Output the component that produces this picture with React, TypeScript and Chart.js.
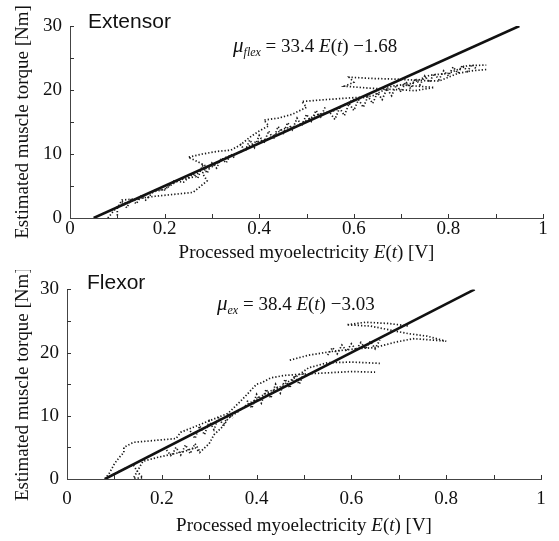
import React, { useEffect, useRef } from "react";
import { Chart, registerables } from "chart.js";
Chart.register(...registerables);

type Pt = [number, number];

// ---------- data ----------
const xTickLabels = ["0", "0.2", "0.4", "0.6", "0.8", "1"];
const yTickLabels = ["0", "10", "20", "30"];

// Extensor panel
const extFit: Pt[] = [[0.05, 0.0], [0.95, 30.0]];
const extTraceUp: Pt[] = [
  [0.08, 0.0], [0.09, 0.9], [0.1, 1.8], [0.12, 2.5], [0.14, 2.8], [0.17, 4.0], [0.2, 4.5],
  [0.23, 5.9], [0.26, 6.4], [0.28, 7.6], [0.3, 8.0], [0.33, 9.5], [0.36, 10.3], [0.39, 11.8],
  [0.42, 12.4], [0.45, 13.9], [0.48, 14.4], [0.52, 16.1], [0.56, 16.8], [0.6, 18.5], [0.64, 19.1],
  [0.68, 20.6], [0.72, 21.0], [0.76, 22.3], [0.8, 22.6], [0.84, 23.8], [0.88, 23.9],
];
const extTraceReturn: Pt[] = [
  [0.88, 23.2], [0.85, 23.0], [0.82, 22.6], [0.78, 21.4], [0.74, 21.5], [0.69, 21.7],
  [0.64, 21.8], [0.59, 22.0], [0.6, 21.2], [0.58, 20.6], [0.63, 20.3], [0.68, 20.1],
  [0.73, 19.9], [0.77, 20.4], [0.7, 20.8],
];
const extTraceMid: Pt[] = [
  [0.62, 18.9], [0.58, 18.7], [0.54, 18.5], [0.49, 18.2], [0.5, 17.3], [0.47, 16.2], [0.44, 15.6],
  [0.41, 15.3], [0.42, 14.4], [0.4, 13.6], [0.38, 12.6], [0.36, 11.4], [0.34, 10.6], [0.31, 10.4],
  [0.28, 10.0], [0.25, 9.5], [0.27, 8.8], [0.29, 8.0], [0.28, 7.0], [0.29, 5.8], [0.27, 4.6],
  [0.26, 4.0], [0.22, 3.7], [0.18, 3.4], [0.14, 3.0], [0.11, 2.8], [0.1, 1.6], [0.1, 0.4],
];
const extJitterLow: Pt[] = [
  [0.11, 2.6], [0.12, 1.6], [0.13, 3.0], [0.14, 2.2], [0.15, 3.4], [0.16, 2.8], [0.18, 4.4],
  [0.2, 4.4], [0.22, 5.8], [0.24, 5.6], [0.26, 6.9], [0.27, 6.2], [0.28, 8.2], [0.29, 7.0],
  [0.3, 8.6], [0.31, 7.8], [0.32, 9.4], [0.33, 8.6], [0.34, 10.0], [0.35, 9.2],
];
const extJitterMid: Pt[] = [
  [0.36, 11.6], [0.37, 10.4], [0.38, 12.2], [0.39, 11.0], [0.4, 12.9], [0.41, 11.7], [0.42, 13.6],
  [0.43, 12.3], [0.44, 14.3], [0.45, 13.0], [0.46, 14.9], [0.47, 13.8], [0.48, 15.6], [0.49, 14.4],
  [0.5, 16.2], [0.51, 15.1], [0.52, 16.8], [0.53, 15.8], [0.54, 17.4],
];
const extJitterHigh: Pt[] = [
  [0.55, 16.4], [0.56, 15.4], [0.57, 17.2], [0.58, 16.0], [0.59, 17.9], [0.6, 16.8], [0.61, 18.5],
  [0.62, 17.3], [0.63, 19.0], [0.64, 17.9], [0.65, 19.6], [0.66, 18.5], [0.67, 20.2], [0.68, 19.1],
  [0.69, 20.8], [0.7, 19.7], [0.71, 21.3], [0.72, 20.2], [0.73, 21.8], [0.74, 20.8], [0.75, 22.2],
  [0.76, 21.2], [0.77, 22.6], [0.78, 21.6], [0.79, 23.0], [0.8, 22.2], [0.81, 23.6], [0.82, 22.6],
  [0.83, 23.9], [0.84, 22.9], [0.85, 24.0], [0.86, 23.2],
];

// Flexor panel
const flxFit: Pt[] = [[0.08, 0.0], [0.86, 30.0]];
const flxTraceUpper: Pt[] = [
  [0.08, 0.0], [0.09, 1.0], [0.1, 2.4], [0.11, 3.4], [0.12, 4.2], [0.12, 5.0], [0.14, 5.8],
  [0.17, 6.0], [0.2, 6.2], [0.23, 6.4], [0.24, 7.4], [0.26, 8.0], [0.29, 8.9], [0.32, 9.8],
  [0.34, 10.4], [0.37, 12.6], [0.4, 15.0], [0.41, 15.2], [0.43, 16.0], [0.46, 16.4],
  [0.5, 16.6], [0.55, 16.8], [0.6, 17.0], [0.65, 16.9],
];
const flxTraceLower: Pt[] = [
  [0.09, 0.4], [0.12, 1.6], [0.14, 2.2], [0.15, 1.0], [0.16, 0.2], [0.14, 0.1], [0.16, 2.8],
  [0.19, 3.4], [0.22, 3.9], [0.25, 4.4], [0.27, 5.0], [0.28, 4.2], [0.3, 5.6], [0.31, 7.0],
  [0.33, 8.4], [0.34, 9.6], [0.36, 10.6], [0.38, 11.8], [0.4, 12.6], [0.42, 13.6], [0.45, 14.6],
  [0.48, 16.0], [0.51, 17.6], [0.55, 18.4], [0.6, 18.5], [0.66, 18.3],
];
const flxTraceRight: Pt[] = [
  [0.47, 18.8], [0.51, 19.6], [0.56, 20.2], [0.61, 20.6], [0.65, 20.8], [0.69, 21.6],
  [0.73, 22.2], [0.77, 22.0], [0.8, 21.8], [0.76, 22.6], [0.72, 23.0], [0.68, 23.6],
  [0.64, 24.2], [0.59, 24.4], [0.63, 24.8], [0.68, 24.6], [0.72, 24.2],
];
const flxJitterLow: Pt[] = [
  [0.21, 4.6], [0.22, 3.6], [0.23, 5.0], [0.24, 3.8], [0.25, 5.4], [0.26, 4.0], [0.27, 5.6],
  [0.28, 4.4],
];
const flxJitterMidLow: Pt[] = [
  [0.26, 7.6], [0.27, 6.4], [0.28, 8.4], [0.29, 7.0], [0.3, 9.2], [0.31, 7.8], [0.32, 9.8],
  [0.33, 8.4], [0.34, 10.2], [0.35, 9.6],
];
const flxJitterMid: Pt[] = [
  [0.38, 12.4], [0.39, 11.2], [0.4, 13.4], [0.41, 12.0], [0.42, 14.2], [0.43, 12.8], [0.44, 15.0],
  [0.45, 13.6], [0.46, 15.8], [0.47, 14.4], [0.48, 16.4], [0.49, 15.0], [0.5, 16.8],
];
const flxJitterHigh: Pt[] = [
  [0.55, 19.6], [0.56, 20.8], [0.57, 19.8], [0.58, 21.2], [0.59, 20.2], [0.6, 21.4], [0.61, 20.4],
  [0.62, 21.6], [0.63, 20.6], [0.64, 21.8], [0.65, 20.6], [0.66, 22.0],
];

// text
const yTitle = "Estimated muscle torque [Nm]";
const extLabel = "Extensor";
const flxLabel = "Flexor";
const extEqSub = "flex";
const extEqRest = " = 33.4 ";
const extEqTail = " \u22121.68";
const flxEqSub = "ex";
const flxEqRest = " = 38.4 ";
const flxEqTail = " \u22123.03";

// ---------- styling ----------
const SERIF = "'Liberation Serif', 'Times New Roman', serif";
const SANS = "'Liberation Sans', Arial, sans-serif";
const INK = "#111";

type Run = { t: string; italic?: boolean; size: number; dy?: number };

function drawRuns(ctx: CanvasRenderingContext2D, runs: Run[], x: number, y: number, align: "left" | "center") {
  const font = (r: Run) => `${r.italic ? "italic " : ""}${r.size}px ${SERIF}`;
  let total = 0;
  const widths = runs.map((r) => {
    ctx.font = font(r);
    const w = ctx.measureText(r.t).width;
    total += w;
    return w;
  });
  let cx = align === "center" ? x - total / 2 : x;
  runs.forEach((r, i) => {
    ctx.font = font(r);
    ctx.fillText(r.t, cx, y + (r.dy || 0));
    cx += widths[i];
  });
}

const xTitleRuns: Run[] = [
  { t: "Processed myoelectricity ", size: 19 },
  { t: "E", italic: true, size: 19 },
  { t: "(", size: 19 },
  { t: "t", italic: true, size: 19 },
  { t: ") [V]", size: 19 },
];

function eqRuns(sub: string, rest: string, tail: string): Run[] {
  return [
    { t: "\u03bc", italic: true, size: 21 },
    { t: sub, italic: true, size: 12, dy: 4 },
    { t: rest, size: 19 },
    { t: "E", italic: true, size: 19 },
    { t: "(", size: 19 },
    { t: "t", italic: true, size: 19 },
    { t: ")", size: 19 },
    { t: tail, size: 19 },
  ];
}

const panelTextPlugin = {
  id: "panelText",
  afterDraw(chart: any, _args: any, opts: any) {
    const ctx: CanvasRenderingContext2D = chart.ctx;
    const area = chart.chartArea;
    ctx.save();
    ctx.fillStyle = INK;
    ctx.textBaseline = "alphabetic";
    ctx.textAlign = "left";
    ctx.font = `21px ${SANS}`;
    ctx.fillText(opts.label, opts.labelX, opts.labelY);
    drawRuns(ctx, opts.equation, opts.eqX, opts.eqY, "left");
    drawRuns(ctx, xTitleRuns, (area.left + area.right) / 2, opts.xTitleY, "center");
    ctx.restore();
  },
};

const innerTicksPlugin = {
  id: "innerTicks",
  afterDatasetsDraw(chart: any) {
    const ctx: CanvasRenderingContext2D = chart.ctx;
    const { left, bottom } = chart.chartArea;
    const xs = chart.scales.x;
    const ys = chart.scales.y;
    ctx.save();
    ctx.strokeStyle = "#333";
    ctx.lineWidth = 1;
    for (let i = 1; i <= 6; i++) {
      const py = Math.round(ys.getPixelForValue(i * 5)) + 0.5;
      ctx.beginPath();
      ctx.moveTo(left, py);
      ctx.lineTo(left + 4, py);
      ctx.stroke();
    }
    for (let i = 1; i <= 10; i++) {
      const px = Math.round(xs.getPixelForValue(i / 10)) + 0.5;
      ctx.beginPath();
      ctx.moveTo(px, bottom);
      ctx.lineTo(px, bottom - 4);
      ctx.stroke();
    }
    ctx.restore();
  },
};

type PanelProps = {
  top: number;
  height: number;
  area: { left: number; right: number; top: number; bottom: number };
  fit: Pt[];
  traces: Pt[][];
  label: string;
  labelX: number;
  labelY: number;
  equation: Run[];
  eqX: number;
  eqY: number;
  xTitleY: number;
  xTickPad: number;
};

function Panel(p: PanelProps) {
  const ref = useRef<HTMLCanvasElement | null>(null);
  useEffect(() => {
    if (!ref.current) return;
    const W = 559;
    const toPts = (arr: Pt[]) => arr.map(([x, y]) => ({ x, y }));
    const datasets: any[] = p.traces.map((t) => ({
      data: toPts(t),
      showLine: true,
      borderColor: "#1a1a1a",
      borderWidth: 1.7,
      borderDash: [1.3, 2.0],
      pointRadius: 0,
      tension: 0,
    }));
    datasets.push({
      data: toPts(p.fit),
      showLine: true,
      borderColor: INK,
      borderWidth: 2.6,
      pointRadius: 0,
      tension: 0,
    });
    const chart = new Chart(ref.current, {
      type: "scatter",
      data: { datasets },
      options: {
        responsive: false,
        animation: false,
        devicePixelRatio: 1,
        layout: { padding: { left: 0, right: W - p.area.right, top: p.area.top, bottom: 0 } },
        plugins: {
          legend: { display: false },
          tooltip: { enabled: false },
          panelText: {
            label: p.label,
            labelX: p.labelX,
            labelY: p.labelY,
            equation: p.equation,
            eqX: p.eqX,
            eqY: p.eqY,
            xTitleY: p.xTitleY,
          },
        } as any,
        scales: {
          x: {
            type: "linear",
            min: 0,
            max: 1,
            afterFit: (s: any) => {
              s.height = p.height - p.area.bottom;
            },
            grid: { display: false, drawTicks: false },
            border: { display: true, color: "#444", width: 1 },
            ticks: {
              stepSize: 0.2,
              padding: p.xTickPad,
              color: INK,
              maxRotation: 0,
              autoSkip: false,
              font: { family: SERIF, size: 19 },
              callback: (v: any) => xTickLabels[Math.round(Number(v) * 5)] ?? "",
            },
          },
          y: {
            type: "linear",
            min: 0,
            max: 30,
            afterFit: (s: any) => {
              s.width = p.area.left;
            },
            grid: { display: false, drawTicks: false },
            border: { display: true, color: "#444", width: 1 },
            ticks: {
              stepSize: 10,
              padding: 8,
              color: INK,
              font: { family: SERIF, size: 19 },
              callback: (v: any) => yTickLabels[Math.round(Number(v) / 10)] ?? "",
            },
            title: {
              display: true,
              text: yTitle,
              color: INK,
              font: { family: SERIF, size: 19 },
              padding: { top: 12, bottom: 0 },
            },
          },
        },
      } as any,
      plugins: [innerTicksPlugin, panelTextPlugin],
    });
    return () => chart.destroy();
  }, []);
  return (
    <canvas
      ref={ref}
      width={559}
      height={p.height}
      style={{ position: "absolute", left: 0, top: p.top, width: 559, height: p.height, display: "block" }}
    />
  );
}

export default function App() {
  return (
    <div style={{ position: "absolute", left: 0, top: 0, width: 559, height: 541, background: "#fff" }}>
      <Panel
        top={0}
        height={270}
        area={{ left: 70, right: 543, top: 26, bottom: 218 }}
        fit={extFit}
        traces={[extTraceUp, extTraceReturn, extTraceMid, extJitterLow, extJitterMid, extJitterHigh]}
        label={extLabel}
        labelX={88}
        labelY={28}
        equation={eqRuns(extEqSub, extEqRest, extEqTail)}
        eqX={233}
        eqY={52}
        xTitleY={258}
        xTickPad={0}
      />
      <Panel
        top={270}
        height={271}
        area={{ left: 67, right: 541, top: 17, bottom: 209 }}
        fit={flxFit}
        traces={[flxTraceUpper, flxTraceLower, flxTraceRight, flxJitterLow, flxJitterMidLow, flxJitterMid, flxJitterHigh]}
        label={flxLabel}
        labelX={87}
        labelY={19}
        equation={eqRuns(flxEqSub, flxEqRest, flxEqTail)}
        eqX={217}
        eqY={40}
        xTitleY={261}
        xTickPad={9}
      />
    </div>
  );
}
